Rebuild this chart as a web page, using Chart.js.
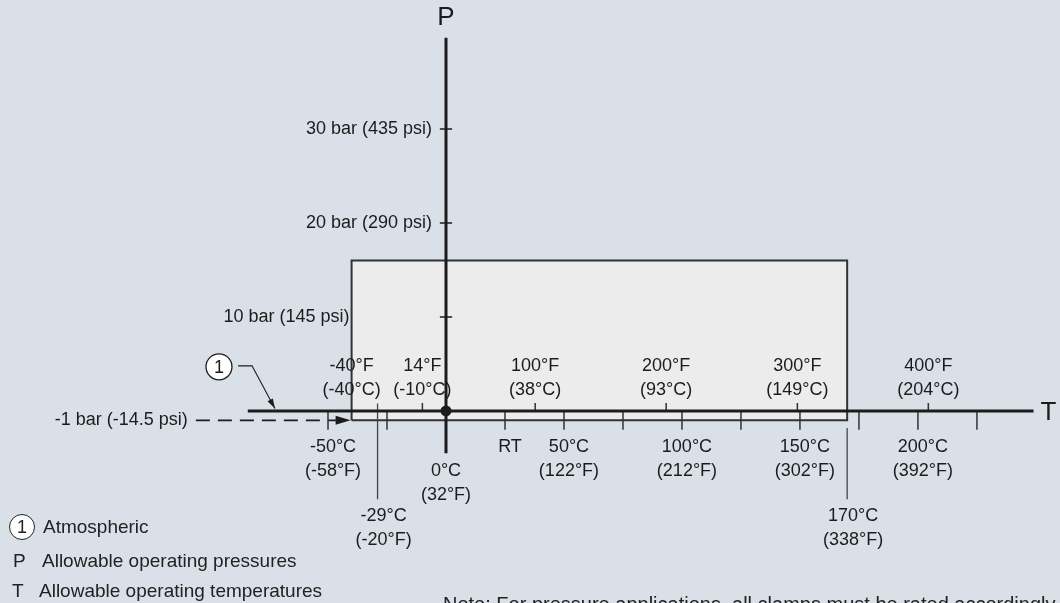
<!DOCTYPE html>
<html>
<head>
<meta charset="utf-8">
<title>Allowable operating pressures and temperatures</title>
<script src="https://cdn.jsdelivr.net/npm/chart.js@4.4.0/dist/chart.umd.min.js"></script>
<style>
  body { margin: 0; background: #d9e0e7; font-family: "Liberation Sans", Arial, sans-serif; color: #222; }
  #wrap { position: relative; width: 1060px; height: 603px; overflow: hidden; }
  #chart { position: absolute; left: 0; top: 0; }
  .key { position: absolute; font-size: 19px; line-height: 20px; white-space: nowrap; }
  .note { font-size: 20px; }
  .num { position: absolute; width: 24px; height: 24px; border: 1.3px solid #222; border-radius: 50%;
         background: #fff; font-size: 18px; line-height: 24px; text-align: center; }
</style>
</head>
<body>
<div id="wrap">
  <canvas id="chart" width="1060" height="603"></canvas>
  <div class="num" style="left:9px; top:514px;">1</div>
  <div class="key" style="left:43px; top:517px;">Atmospheric</div>
  <div class="key" style="left:13px; top:551px;">P</div>
  <div class="key" style="left:42px; top:551px;">Allowable operating pressures</div>
  <div class="key" style="left:12px; top:581px;">T</div>
  <div class="key" style="left:39px; top:581px;">Allowable operating temperatures</div>
  <div class="key note" style="left:443px; top:594px;">Note: For pressure applications, all clamps must be rated accordingly.</div>
</div>
<script>
// axes extents (°C horizontally, bar vertically)
const tRange = [-189, 260.2];
const pRange = [-20.43, 43.72];
const tAxisSpan = [-84, 249];
const pAxisSpan = [-4.5, 39.7];

// allowable envelope
const envelopeT = [-40, 170];
const envelopeP = [-1, 16];

// pressure ticks
const pTicks = [10, 20, 30];
const pTickLabels = ['10 bar (145 psi)', '20 bar (290 psi)', '30 bar (435 psi)'];
const atmPressure = -1;
const atmLabel = '-1 bar (-14.5 psi)';
const atmDashStart = -106;

// °C ticks below the T axis
const cTicks = [-50, -25, 25, 50, 75, 100, 125, 150, 175, 200, 225];
const cLabelAt = [-50, 25, 50, 100, 150, 200];
const cLabels = [['-50°C', '(-58°F)'], ['RT'], ['50°C', '(122°F)'], ['100°C', '(212°F)'],
                 ['150°C', '(302°F)'], ['200°C', '(392°F)']];

// °F ticks above the T axis (placed in °C)
const fTicks = [-10, 37.8, 93.3, 148.9, 204.4];
const fLabelAt = [-40, -10, 37.8, 93.3, 148.9, 204.4];
const fLabels = [['-40°F', '(-40°C)'], ['14°F', '(-10°C)'], ['100°F', '(38°C)'],
                 ['200°F', '(93°C)'], ['300°F', '(149°C)'], ['400°F', '(204°C)']];

// temperature limits
const limitT = [-29, 170];
const limitLabels = [['-29°C', '(-20°F)'], ['170°C', '(338°F)']];

// callout 1 (atmospheric) leader, in °C / bar
const calloutT = [-96.2, -88.1, -82.2, -72.5];
const calloutP = [4.7, 4.8, 4.8, 0.25];

const ink = '#1c1c1c';
const font = '"Liberation Sans", Arial, sans-serif';

function segments(list) {
  const out = [];
  list.forEach(s => { out.push({x: s[0], y: s[1]}, {x: s[2], y: s[3]}, {x: s[0], y: null}); });
  return out;
}

const line = (data, extra) => Object.assign({
  data, showLine: true, pointRadius: 0, borderColor: ink, borderWidth: 1.5, fill: false, spanGaps: false
}, extra);

const datasets = [
  line([{x: 0, y: pAxisSpan[0]}, {x: 0, y: pAxisSpan[1]}], {borderWidth: 3}),
  line([{x: tAxisSpan[0], y: 0}, {x: tAxisSpan[1], y: 0}], {borderWidth: 3}),
  {data: [{x: 0, y: 0}], pointRadius: 5.5, backgroundColor: ink, borderWidth: 0},
  line(segments(pTicks.map(p => [-2.6, p, 2.6, p]))),
  line(segments(cTicks.map(t => [t, 0, t, -2.0])), {borderColor: '#333'}),
  line(segments(fTicks.map(t => [t, 0, t, 0.85])), {borderColor: '#333'}),
  line(segments([[limitT[0], 0.8, limitT[0], -9.4], [limitT[1], -1.8, limitT[1], -9.4]]),
       {borderColor: '#444', borderWidth: 1.3}),
  line([{x: atmDashStart, y: atmPressure}, {x: envelopeT[0] - 5, y: atmPressure}],
       {borderDash: [14, 8], borderWidth: 1.6}),
  line(calloutT.slice(1).map((t, i) => ({x: t, y: calloutP[i + 1]})), {borderWidth: 1.1}),
  {data: [{x: calloutT[0], y: calloutP[0]}], pointRadius: 13, backgroundColor: '#fff',
   borderColor: ink, borderWidth: 1.3},
  line([{x: envelopeT[0], y: envelopeP[0]}, {x: envelopeT[0], y: envelopeP[1]},
        {x: envelopeT[1], y: envelopeP[1]}, {x: envelopeT[1], y: envelopeP[0]},
        {x: envelopeT[0], y: envelopeP[0]}],
       {fill: 'shape', backgroundColor: '#ececec', borderColor: '#333', borderWidth: 2, order: 10})
];

function arrowHead(ctx, x0, y0, x1, y1, len, half) {
  const a = Math.atan2(y1 - y0, x1 - x0);
  ctx.beginPath();
  ctx.moveTo(x1, y1);
  ctx.lineTo(x1 - len * Math.cos(a) + half * Math.sin(a), y1 - len * Math.sin(a) - half * Math.cos(a));
  ctx.lineTo(x1 - len * Math.cos(a) - half * Math.sin(a), y1 - len * Math.sin(a) + half * Math.cos(a));
  ctx.closePath();
  ctx.fill();
}

const diagramText = {
  id: 'diagramText',
  afterDatasetsDraw(chart) {
    const {ctx, scales: {x, y}} = chart;
    const px = v => x.getPixelForValue(v);
    const py = v => y.getPixelForValue(v);
    const y0 = py(0);
    ctx.save();
    ctx.fillStyle = ink;
    ctx.textBaseline = 'middle';

    // arrow heads
    arrowHead(ctx, px(atmDashStart), py(atmPressure), px(envelopeT[0]) - 1, py(atmPressure), 15, 4.5);
    const n = calloutT.length;
    arrowHead(ctx, px(calloutT[n - 2]), py(calloutP[n - 2]), px(calloutT[n - 1]), py(calloutP[n - 1]), 10, 3);

    ctx.font = '18px ' + font;
    ctx.textAlign = 'right';
    pTicks.forEach((p, i) => {
      const ax = p < envelopeP[1] ? px(envelopeT[0]) - 2 : px(0) - 14;
      ctx.fillText(pTickLabels[i], ax, py(p));
    });
    ctx.fillText(atmLabel, px(atmDashStart) - 8, py(atmPressure));

    ctx.textAlign = 'center';
    fLabelAt.forEach((t, i) => {
      ctx.fillText(fLabels[i][0], px(t), y0 - 45);
      ctx.fillText(fLabels[i][1], px(t), y0 - 21);
    });
    cLabelAt.forEach((t, i) => {
      cLabels[i].forEach((s, k) => ctx.fillText(s, px(t) + 5, y0 + 36 + k * 24));
    });
    ctx.fillText('0°C', px(0), y0 + 60);
    ctx.fillText('(32°F)', px(0), y0 + 84);
    limitT.forEach((t, i) => {
      ctx.fillText(limitLabels[i][0], px(t) + 6, y0 + 105);
      ctx.fillText(limitLabels[i][1], px(t) + 6, y0 + 129);
    });
    ctx.fillText('1', px(calloutT[0]), py(calloutP[0]) + 1);

    ctx.font = '26px ' + font;
    ctx.fillText('P', px(0), py(pAxisSpan[1]) - 20);
    ctx.textAlign = 'left';
    ctx.fillText('T', px(tAxisSpan[1]) + 7, y0 + 2);
    ctx.restore();
  }
};

new Chart(document.getElementById('chart').getContext('2d'), {
  type: 'scatter',
  data: {datasets},
  options: {
    responsive: false,
    animation: false,
    layout: {padding: 0, autoPadding: false},
    plugins: {legend: {display: false}, tooltip: {enabled: false}},
    scales: {
      x: {type: 'linear', display: false, min: tRange[0], max: tRange[1]},
      y: {type: 'linear', display: false, min: pRange[0], max: pRange[1]}
    }
  },
  plugins: [diagramText]
});
</script>
</body>
</html>
